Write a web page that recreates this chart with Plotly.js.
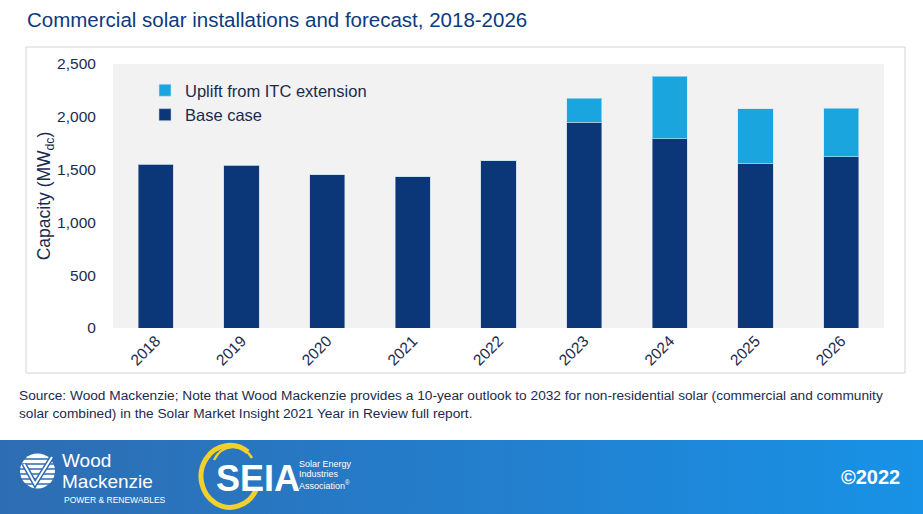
<!DOCTYPE html>
<html>
<head>
<meta charset="utf-8">
<script src="https://cdn.plot.ly/plotly-3.0.1.min.js"></script>
<style>
  html, body { margin: 0; padding: 0; background: #ffffff; }
  #chart { width: 923px; height: 514px; }
</style>
</head>
<body>
<div id="chart"></div>
<script>
// ---- Data ----
const years = ['2018', '2019', '2020', '2021', '2022', '2023', '2024', '2025', '2026'];
const baseCase = [1550, 1541, 1449, 1430, 1584, 1948, 1790, 1556, 1622];
const itcUplift = [0, 0, 0, 0, 0, 230, 596, 521, 458];
const yTicks = [0, 500, 1000, 1500, 2000, 2500];
const yTickLabels = ['0', '500', '1,000', '1,500', '2,000', '2,500'];

// ---- Layout geometry (pixels) ----
const W = 923, H = 514;
const L = 113, R = 884, T = 64, B = 328;
const pw = R - L, ph = B - T;
const px = x => (x - L) / pw;
const py = y => (B - y) / ph;

const navy = '#0b3677';
const sky = '#1ba5df';
const textNavy = '#1b2b4d';
const FONT = 'Liberation Sans, Arial, sans-serif';

const traces = [
  {
    type: 'bar', name: 'Base case', x: years, y: baseCase,
    marker: { color: navy, line: { color: 'rgba(190,205,228,0.55)', width: 1 } },
    hoverinfo: 'x+y+name'
  },
  {
    type: 'bar', name: 'Uplift from ITC extension', x: years, y: itcUplift,
    marker: { color: sky, line: { color: 'rgba(200,230,245,0.6)', width: 1 } },
    hoverinfo: 'x+y+name'
  }
];

// Banner background + logo graphics (decorative SVG)
const bannerSvg =
  '<svg xmlns="http://www.w3.org/2000/svg" width="923" height="74" viewBox="0 0 923 74">' +
  '<defs><linearGradient id="g" x1="0" y1="0" x2="1" y2="0">' +
  '<stop offset="0" stop-color="#2e6db2"/><stop offset="0.55" stop-color="#237fce"/><stop offset="1" stop-color="#1892e6"/>' +
  '</linearGradient></defs>' +
  '<rect x="0" y="0" width="923" height="74" fill="url(#g)"/>' +
  // Wood Mackenzie icon
  '<circle cx="37.5" cy="31" r="17.5" fill="#ffffff"/>' +
  '<g stroke="#2e6db2" stroke-width="1.6">' +
  '<line x1="19" y1="19" x2="56" y2="19"/><line x1="19" y1="24" x2="56" y2="24"/>' +
  '<line x1="19" y1="29" x2="56" y2="29"/><line x1="19" y1="34" x2="56" y2="34"/>' +
  '<line x1="19" y1="39" x2="56" y2="39"/><line x1="19" y1="44" x2="56" y2="44"/>' +
  '</g>' +
  '<path d="M24,24 L35,44 L52,17" fill="none" stroke="#2e6db2" stroke-width="5"/>' +
  '<path d="M24,24 L35,44 L52,17" fill="none" stroke="#ffffff" stroke-width="2"/>' +
  // SEIA ring
  '<path d="M248,12 A29,31 0 1 0 256,50" fill="none" stroke="#f3d12b" stroke-width="5"/>' +
  '<path d="M214,20 A22,24 0 0 1 252,18" fill="none" stroke="#f3d12b" stroke-width="2.5"/>' +
  '</svg>';
const bannerSrc = 'data:image/svg+xml;base64,' + btoa(bannerSvg);

const white = '#ffffff';
const ann = (x, y, text, size, opts) => Object.assign({
  xref: 'paper', yref: 'paper', x: px(x), y: py(y), text: text, showarrow: false,
  xanchor: 'left', yanchor: 'middle',
  font: { family: FONT, size: size, color: white }
}, opts || {});

const layout = {
  width: W, height: H,
  margin: { l: L, r: W - R, t: T, b: H - B, pad: 0 },
  paper_bgcolor: '#ffffff',
  plot_bgcolor: '#f2f2f2',
  barmode: 'stack',
  bargap: 0.59,
  showlegend: true,
  font: { family: FONT, color: textNavy },
  title: {
    text: 'Commercial solar installations and forecast, 2018-2026',
    xref: 'container', yref: 'container', x: 27 / W, xanchor: 'left',
    y: 1 - 20 / H, yanchor: 'middle',
    font: { family: FONT, size: 20.5, color: '#0d3a7e' }
  },
  xaxis: {
    type: 'category', range: [-0.5, 8.5], fixedrange: true,
    tickangle: -45, showgrid: false, zeroline: false, showline: false,
    ticks: '', tickfont: { size: 15.5, color: textNavy }, automargin: false
  },
  yaxis: {
    range: [0, 2500], fixedrange: true, showgrid: false, zeroline: false, showline: false,
    tickvals: yTicks, ticktext: yTickLabels, ticks: 'outside', ticklen: 13, tickcolor: 'rgba(0,0,0,0)',
    tickfont: { size: 15.5, color: textNavy }, automargin: true,
    title: { text: 'Capacity (MW<sub>dc</sub>)', font: { size: 17.5, color: textNavy }, standoff: 1 }
  },
  legend: {
    x: px(145), xanchor: 'left', y: py(73), yanchor: 'top',
    bgcolor: 'rgba(0,0,0,0)', traceorder: 'reversed',
    font: { size: 16.5, color: textNavy }, itemwidth: 30, tracegroupgap: 0
  },
  shapes: [
    {
      type: 'rect', xref: 'paper', yref: 'paper', layer: 'below',
      x0: px(26), x1: px(905), y0: py(373), y1: py(47),
      line: { color: '#d4d4d4', width: 1 }, fillcolor: 'rgba(0,0,0,0)'
    }
  ],
  images: [
    {
      source: bannerSrc, xref: 'paper', yref: 'paper',
      x: px(0), y: py(440), sizex: W / pw, sizey: 74 / ph,
      xanchor: 'left', yanchor: 'top', sizing: 'stretch', layer: 'below'
    }
  ],
  annotations: [
    ann(17, 404,
      'Source: Wood Mackenzie; Note that Wood Mackenzie provides a 10-year outlook to 2032 for non-residential solar (commercial and community<br>solar combined) in the Solar Market Insight 2021 Year in Review full report.',
      13.7, { align: 'left', font: { family: FONT, size: 13.7, color: textNavy } }),
    ann(60, 460, 'Wood', 19),
    ann(60, 481, 'Mackenzie', 19),
    ann(62, 500, 'POWER &amp; RENEWABLES', 8.5),
    ann(214, 478, '<b>SEIA</b>', 36),
    ann(297, 464, 'Solar Energy', 9),
    ann(297, 474, 'Industries', 9),
    ann(297, 485, 'Association<sup>®</sup>', 9),
    ann(902, 477, '<b>©2022</b>', 20, { xanchor: 'right' })
  ]
};

Plotly.newPlot('chart', traces, layout, { displayModeBar: false, staticPlot: true });
</script>
</body>
</html>
